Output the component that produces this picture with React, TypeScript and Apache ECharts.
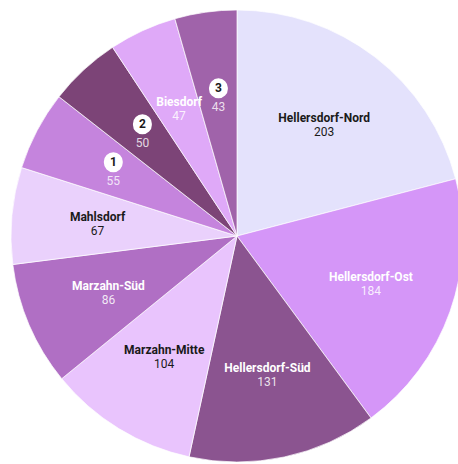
import React, { useEffect, useRef } from "react";
import * as echarts from "echarts";

const categories = [
  "Hellersdorf-Nord",
  "Hellersdorf-Ost",
  "Hellersdorf-Süd",
  "Marzahn-Mitte",
  "Marzahn-Süd",
  "Mahlsdorf",
  "1",
  "2",
  "Biesdorf",
  "3",
];
const values = [203, 184, 131, 104, 86, 67, 55, 50, 47, 43];

const sliceColors = [
  "#e4e2fc",
  "#d596f8",
  "#8b5490",
  "#e9c4fd",
  "#b06fc4",
  "#ead1fc",
  "#c584dd",
  "#7c4477",
  "#dfa9f8",
  "#a063aa",
];
const darkText = [true, false, false, true, false, true, false, false, false, false];

const isBadge = (name: string) => /^\d+$/.test(name);

export default function App() {
  const ref = useRef<HTMLDivElement>(null);
  useEffect(() => {
    if (!ref.current) return;
    const chart = echarts.init(ref.current, null, { renderer: "svg" });
    const data = categories.map((name, i) => ({
      name,
      value: values[i],
      itemStyle: { color: sliceColors[i] },
    }));
    const labelData = categories.map((name, i) => {
      const dark = darkText[i];
      const badge = isBadge(name);
      return {
        name,
        value: values[i],
        label: {
          formatter: badge ? `{bv|${values[i]}}` : `{n|${name}}\n{v|${values[i]}}`,
          offset: badge ? [0, 10] : [0, 0],
          rich: {
            n: {
              fontFamily: "Roboto",
              fontWeight: "bold",
              fontSize: 12,
              lineHeight: 14,
              color: dark ? "#1a1a1a" : "#ffffff",
              align: "center",
            },
            v: {
              fontFamily: "Roboto",
              fontSize: 12,
              lineHeight: 14,
              color: dark ? "#1a1a1a" : "rgba(255,255,255,0.85)",
              align: "center",
            },
            bv: {
              fontFamily: "Roboto",
              fontSize: 12,
              lineHeight: 14,
              color: "rgba(255,255,255,0.8)",
              align: "center",
            },
          },
        },
      };
    });
    const badgeData = categories.map((name, i) => ({
      name,
      value: values[i],
      label: isBadge(name)
        ? {
            show: true,
            formatter: name,
            fontFamily: "Roboto",
            fontWeight: "bold",
            fontSize: 12,
            lineHeight: 14,
            color: "#1a1a1a",
            backgroundColor: "#ffffff",
            borderRadius: 10,
            padding: [3, 6, 3, 6],
            offset: [0, -9],
          }
        : { show: false },
    }));
    chart.setOption({
      animation: false,
      series: [
        {
          type: "pie",
          center: [237, 236],
          radius: 226,
          startAngle: 90,
          clockwise: true,
          silent: true,
          label: { show: false },
          labelLine: { show: false },
          itemStyle: { borderColor: "#ffffff", borderWidth: 0.7 },
          data,
        },
        {
          type: "pie",
          center: [238, 237],
          radius: 276,
          startAngle: 90,
          clockwise: true,
          silent: true,
          itemStyle: { color: "transparent", borderWidth: 0 },
          label: { show: true, position: "inside" },
          labelLine: { show: false },
          data: labelData,
        },
        {
          type: "pie",
          center: [238, 237],
          radius: 276,
          startAngle: 90,
          clockwise: true,
          silent: true,
          itemStyle: { color: "transparent", borderWidth: 0 },
          label: { show: true, position: "inside" },
          labelLine: { show: false },
          data: badgeData,
        },
      ],
    });
    return () => chart.dispose();
  }, []);
  return (
    <div
      ref={ref}
      style={{ position: "absolute", left: 0, top: 0, width: 458, height: 464 }}
    />
  );
}
